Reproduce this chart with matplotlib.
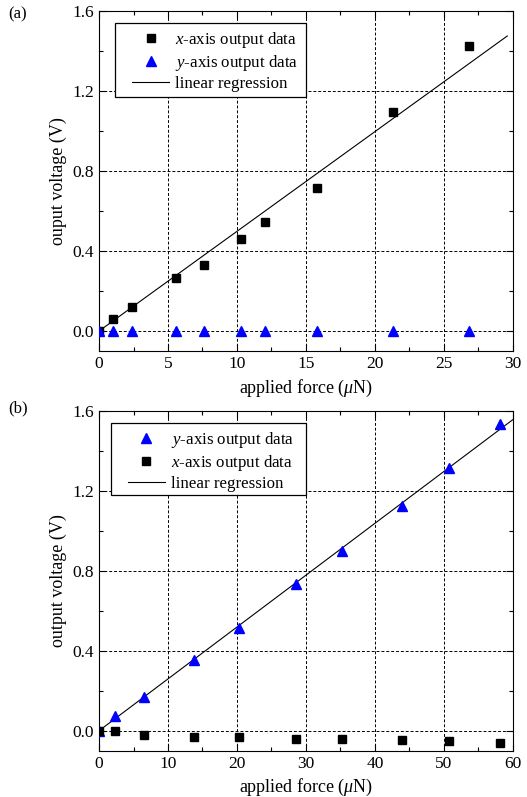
import matplotlib.pyplot as plt
from matplotlib.ticker import MultipleLocator
from matplotlib.patches import Rectangle

plt.rcParams['font.family'] = ['Liberation Serif', 'DejaVu Serif']
plt.rcParams['mathtext.fontset'] = 'custom'
plt.rcParams['mathtext.it'] = 'Liberation Serif:italic'
plt.rcParams['mathtext.rm'] = 'Liberation Serif'

# =========================
# DATOS (a)
# =========================
force_a = [0.0, 1.0, 2.4, 5.6, 7.6, 10.3, 12.0, 15.8, 21.3, 26.8]
x_out_a = [0.0, 0.058, 0.118, 0.265, 0.328, 0.458, 0.543, 0.713, 1.097, 1.425]
y_out_a = [0.0, 0.0, 0.0, 0.0, 0.0, 0.0, 0.0, 0.0, 0.0, 0.0]
fit_a_x = [0.0, 29.6]
fit_a_y = [0.0, 1.475]

# =========================
# DATOS (b)
# =========================
force_b = [0.0, 2.3, 6.5, 13.7, 20.3, 28.5, 35.3, 44.0, 50.7, 58.1]
y_out_b = [0.0, 0.075, 0.167, 0.355, 0.512, 0.732, 0.898, 1.125, 1.312, 1.532]
x_out_b = [0.0, 0.0, -0.02, -0.03, -0.033, -0.043, -0.04, -0.045, -0.053, -0.06]
fit_b_x = [0.0, 60.0]
fit_b_y = [0.0, 1.555]

fig = plt.figure(figsize=(5.27, 7.97), dpi=100)
ax1 = fig.add_axes([0.188, 0.5596, 0.785, 0.4266])
ax2 = fig.add_axes([0.188, 0.0581, 0.785, 0.4266])


def style(ax, xmax, xmajor):
    ax.set_xlim(0, xmax)
    ax.set_ylim(-0.1, 1.6)
    ax.xaxis.set_major_locator(MultipleLocator(xmajor))
    ax.xaxis.set_minor_locator(MultipleLocator(xmajor / 2))
    ax.yaxis.set_major_locator(MultipleLocator(0.4))
    ax.yaxis.set_minor_locator(MultipleLocator(0.2))
    ax.yaxis.set_major_formatter(plt.FormatStrFormatter('%.1f'))
    ax.tick_params(which='both', direction='in', top=True, right=True,
                   labelsize=12.5, width=0.8)
    ax.tick_params(which='major', length=5)
    ax.tick_params(which='minor', length=3)
    ax.grid(True, which='major', color='black', linestyle=(0, (3, 2)),
            linewidth=0.7)
    ax.set_axisbelow(True)
    ax.set_xlabel(r'applied force ($\mu$N)', fontsize=13, labelpad=4)


def legend_box(ax, frame, handle_x, mid_y):
    # cuadro del legend dibujado aparte (mas margen lateral que vertical)
    ax.add_patch(Rectangle((frame[0], frame[1]), frame[2] - frame[0],
                           frame[3] - frame[1], transform=ax.transAxes,
                           facecolor='white', edgecolor='black',
                           linewidth=0.9, zorder=4))
    leg = ax.legend(loc='center left', bbox_to_anchor=(handle_x, mid_y),
                    fontsize=12.2, frameon=False, borderpad=0,
                    borderaxespad=0, handlelength=2.2, handletextpad=0.35,
                    labelspacing=0.18)
    leg.set_zorder(5)


# (a)
ax1.plot(force_a, x_out_a, 's', color='black', markersize=5.5,
         label=r'$x$-axis output data', zorder=3)
ax1.plot(force_a, y_out_a, '^', color='blue', markersize=6.5,
         label=r'$y$-axis output data', zorder=3)
ax1.plot(fit_a_x, fit_a_y, '-', color='black', linewidth=0.8,
         label='linear regression', zorder=2)
style(ax1, 30, 5)
ax1.set_ylabel('ouput voltage (V)', fontsize=13)
legend_box(ax1, (0.039, 0.747, 0.50, 0.965), 0.08, 0.853)

# (b)
ax2.plot(force_b, y_out_b, '^', color='blue', markersize=6.5,
         label=r'$y$-axis output data', zorder=3)
ax2.plot(force_b, x_out_b, 's', color='black', markersize=5.5,
         label=r'$x$-axis output data', zorder=3)
ax2.plot(fit_b_x, fit_b_y, '-', color='black', linewidth=0.8,
         label='linear regression', zorder=2)
style(ax2, 60, 10)
ax2.set_ylabel('output voltage (V)', fontsize=13)
legend_box(ax2, (0.029, 0.752, 0.50, 0.963), 0.069, 0.853)

fig.text(0.015, 0.982, '(a)', fontsize=12, va='center')
fig.text(0.015, 0.487, '(b)', fontsize=12, va='center')

fig.savefig('out.png', dpi=100)
plt.close()
